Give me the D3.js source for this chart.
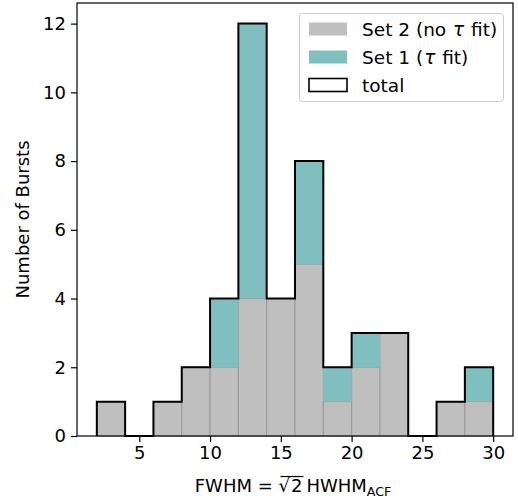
<!DOCTYPE html>
<html>
<head>
<meta charset="utf-8">
<style>
  body { margin: 0; background: #fff; }
  text { font-family: "DejaVu Sans", sans-serif; }
</style>
</head>
<body>
<div id="container"></div>
<script src="https://d3js.org/d3.v7.min.js"></script>
<script>
// histogram bins (left edges), width 2
var binStarts = [2, 4, 6, 8, 10, 12, 14, 16, 18, 20, 22, 24, 26, 28];
var binWidth = 2;
var set2 = [1, 0, 1, 2, 2, 4, 4, 5, 1, 2, 3, 0, 1, 1];   // no tau fit
var set1 = [0, 0, 0, 0, 2, 8, 0, 3, 1, 1, 0, 0, 0, 1];   // tau fit
var xTicks = [5, 10, 15, 20, 25, 30];
var yTicks = [0, 2, 4, 6, 8, 10, 12];

var W = 518, H = 501;
var margin = {top: 3, right: 5, bottom: 65, left: 77};
var fs = 18;

var svg = d3.select("#container").append("svg")
  .attr("width", W).attr("height", H);

var x = d3.scaleLinear().domain([0.6, 31.4]).range([margin.left, W - margin.right]);
var y = d3.scaleLinear().domain([0, 12.6]).range([H - margin.bottom, margin.top]);

var bins = binStarts.map(function (b, i) {
  return {x0: b, x1: b + binWidth, s2: set2[i], s1: set1[i]};
});

// Set 2 bars (bottom)
svg.append("g").selectAll("rect.s2").data(bins.filter(d => d.s2 > 0)).enter().append("rect")
  .attr("x", d => x(d.x0))
  .attr("width", d => x(d.x1) - x(d.x0))
  .attr("y", d => y(d.s2))
  .attr("height", d => y(0) - y(d.s2))
  .style("fill", "#bfbfbf")
  .style("stroke", "#999999")
  .style("stroke-width", 1);

// Set 1 bars stacked on top
svg.append("g").selectAll("rect.s1").data(bins.filter(d => d.s1 > 0)).enter().append("rect")
  .attr("x", d => x(d.x0))
  .attr("width", d => x(d.x1) - x(d.x0))
  .attr("y", d => y(d.s2 + d.s1))
  .attr("height", d => y(d.s2) - y(d.s2 + d.s1))
  .style("fill", "#80bfbf");

// total step outline
var pts = [[bins[0].x0, 0]];
bins.forEach(function (d) {
  pts.push([d.x0, d.s1 + d.s2]);
  pts.push([d.x1, d.s1 + d.s2]);
});
pts.push([bins[bins.length - 1].x1, 0]);
svg.append("path")
  .attr("d", d3.line().x(d => x(d[0])).y(d => y(d[1]))(pts))
  .style("fill", "none")
  .style("stroke", "#000")
  .style("stroke-width", 2)
  .style("stroke-linejoin", "miter");

// axes
var xAxis = svg.append("g")
  .attr("transform", "translate(0," + y(0) + ")")
  .call(d3.axisBottom(x).tickValues(xTicks).tickSize(6).tickPadding(4));
var yAxis = svg.append("g")
  .attr("transform", "translate(" + x.range()[0] + ",0)")
  .call(d3.axisLeft(y).tickValues(yTicks).tickSize(6).tickPadding(5));
[xAxis, yAxis].forEach(function (a) {
  a.select(".domain").remove();
  a.selectAll(".tick line").style("stroke", "#000").style("stroke-width", 1.2);
  a.selectAll(".tick text").style("font-size", fs + "px").style("font-family", "DejaVu Sans").style("fill", "#000");
});

// frame
svg.append("rect")
  .attr("x", x.range()[0]).attr("y", y.range()[1])
  .attr("width", x.range()[1] - x.range()[0])
  .attr("height", y.range()[0] - y.range()[1])
  .style("fill", "none").style("stroke", "#000").style("stroke-width", 1.2);

// y label
svg.append("text")
  .attr("transform", "translate(29," + ((y.range()[0] + y.range()[1]) / 2) + ") rotate(-90)")
  .attr("text-anchor", "middle")
  .style("font-size", fs + "px")
  .text("Number of Bursts");

// x label: FWHM = sqrt(2) HWHM_ACF
var xl = svg.append("text")
  .attr("x", 0).attr("y", 492)
  .style("font-size", fs + "px");
xl.append("tspan").text("FWHM = \u221A");
xl.append("tspan").attr("dx", 1).text("2");
xl.append("tspan").attr("dx", 4).text("HWHM");
xl.append("tspan").attr("dy", 4).style("font-size", (fs * 0.7) + "px").text("ACF");
var bb = xl.node().getBBox();
xl.attr("x", (x.range()[0] + x.range()[1]) / 2 - bb.width / 2 - 2);
// overline for the radical
var n = xl.node();
var start = n.getStartPositionOfChar(7), end = n.getEndPositionOfChar(8);
svg.append("line")
  .attr("x1", start.x + 2).attr("x2", end.x + 1)
  .attr("y1", 492 - fs * 0.86).attr("y2", 492 - fs * 0.86)
  .style("stroke", "#000").style("stroke-width", 1.2);

// legend
var lg = svg.append("g");
lg.append("rect")
  .attr("x", 299.5).attr("y", 13.5).attr("width", 204).attr("height", 88)
  .attr("rx", 3)
  .style("fill", "#fff").style("fill-opacity", 0.8)
  .style("stroke", "#cccccc").style("stroke-width", 1);
var items = [
  {label: ["Set 2 (no ", "\u03C4", " fit)"], fill: "#bfbfbf", stroke: "none"},
  {label: ["Set 1 (", "\u03C4", " fit)"], fill: "#80bfbf", stroke: "none"},
  {label: ["total"], fill: "#fff", stroke: "#000"}
];
items.forEach(function (it, i) {
  var cy = 29 + i * 28;
  lg.append("rect")
    .attr("x", 309).attr("y", cy - 6.5).attr("width", 38).attr("height", 13)
    .style("fill", it.fill).style("stroke", it.stroke).style("stroke-width", 1.6);
  var t = lg.append("text").attr("x", 362).attr("y", cy + 6.5).style("font-size", (fs + 0.5) + "px");
  it.label.forEach(function (s, j) {
    t.append("tspan").style("font-style", j === 1 ? "italic" : null)
      .attr("dx", j === 1 ? 1 : (j === 2 ? 1 : null)).text(s);
  });
});
</script>
</body>
</html>
